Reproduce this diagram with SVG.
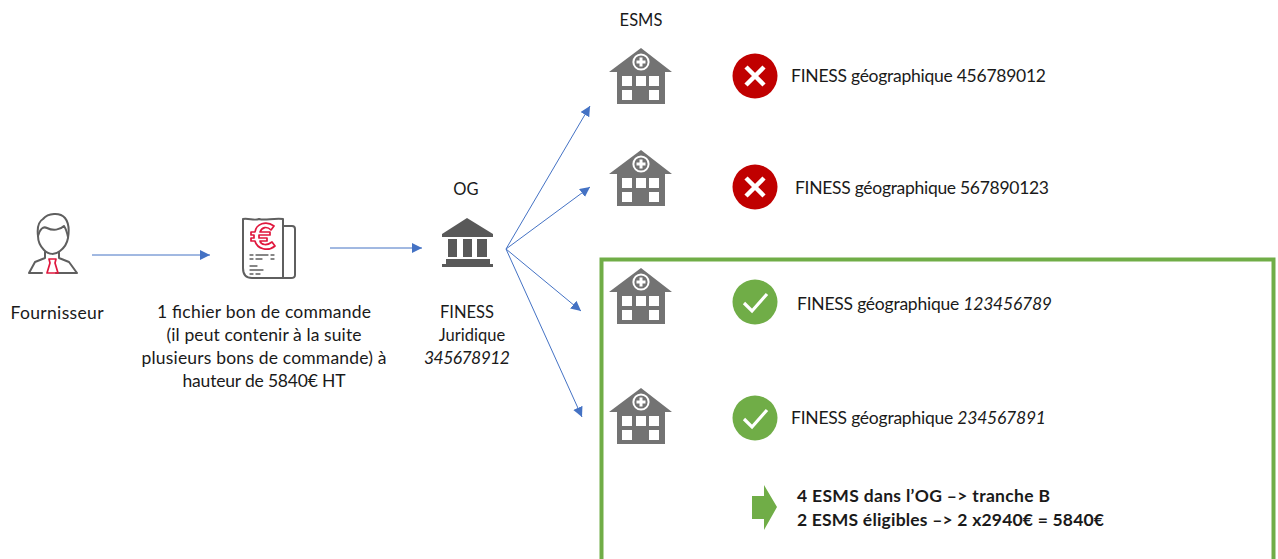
<svg xmlns="http://www.w3.org/2000/svg" width="1278" height="559" viewBox="0 0 1278 559">
<style>
text{font-family:"Lato","Open Sans","Liberation Sans",sans-serif;font-size:17.500px;fill:#1a1a1a}
.c{text-anchor:middle}
.b{font-weight:700}
.i{font-style:italic}
.caps{font-size:16.500px}
.conn{stroke:#4472c4;stroke-width:1;fill:none;marker-end:url(#ah)}
.g{fill:none;stroke:#5f5f5f;stroke-width:2;stroke-linecap:round;stroke-linejoin:round}
.t{fill:none;stroke:#5f5f5f;stroke-width:1.300;stroke-linecap:round}
.r{fill:none;stroke:#e0173d;stroke-width:1.700;stroke-linecap:round;stroke-linejoin:round}
</style>
<defs>
<marker id="ah" markerUnits="userSpaceOnUse" markerWidth="12" markerHeight="12" refX="10" refY="5" orient="auto"><path d="M0 0L10 5L0 10Z" fill="#4472c4"/></marker>
<g id="hosp">
<path d="M32 0L63 24H56V56H8V24H0Z" fill="#737373"/>
<circle cx="32" cy="14" r="8.600" fill="#fff"/><circle cx="32" cy="14" r="6.600" fill="#737373"/>
<path d="M30.500 9.500h3v3h3v3h-3v3h-3v-3h-3v-3h3z" fill="#fff"/>
<path d="M13 28h10v10H13zM27 28h10v10H27zM40 28h10v10H40zM13 42h10v10H13zM40 42h10v10H40z" fill="#fff"/>
</g>
<g id="no"><circle r="22.500" fill="#c00000"/><path d="M-9-9L9 9M9-9L-9 9" stroke="#fff" stroke-width="4.500" fill="none"/></g>
<g id="yes"><circle r="22.500" fill="#70ad47"/><path d="M-11 1L-3 9L12-8" stroke="#fff" stroke-width="3.200" fill="none"/></g>
</defs>
<rect id="box" x="601.500" y="259.500" width="672" height="310" fill="none" stroke="#70ad47" stroke-width="4"/>
<g id="connectors">
<path class="conn" d="M92 255H210"/>
<path class="conn" d="M330 248H422"/>
<path class="conn" d="M506 249L590 106"/>
<path class="conn" d="M506 249L590 187"/>
<path class="conn" d="M506 249L581 311"/>
<path class="conn" d="M506 249L582 417"/>
</g>
<g id="fournisseur">
<path class="g" d="M44 250C40 246 38 241 38 236C37 228 38 222 43 219C48 213 60 212 65 218C69 223 69 232 68 238C67 244 64 248 60 251C55 255 49 255 44 250Z"/>
<path class="g" d="M38 236C40 229 43 226 47 228C53 231 60 230 64 226C66 229 67 232 68 237"/>
<path class="g" d="M45 252V258L35 262L29 273M59 252V258L69 262L77 273M29 273H42M56 273H77"/>
<path class="r" d="M49 259H56L55 263L58 273H47L50 263Z"/>
<text class="c" x="57" y="319" textLength="93">Fournisseur</text>
</g>
<g id="facture">
<path class="g" d="M283 268V219C272 218 265 221 259 219C254 221 249 218 243 219V268C243 274 246 278 252 278H291C293 278 295 277 295 275V229C295 227 294 226 292 226H284M283 268V278"/>
<path class="r" d="M274 226C266 220 256 224 255 232H251V235H254V238H251V241H255C257 249 268 252 275 246L272 242C267 246 261 245 260 241H267V238H259V235H270V232H260C262 227 267 226 271 230Z"/>
<path class="t" d="M250 255H253M256 255H268M271 255H274M250 259H253M256 259H262M271 259H274M250 266H257M250 270H263M250 274H253M256 274H260"/>
<text class="c" x="264" y="318" textLength="214">1 fichier bon de commande</text>
<text class="c" x="264" y="341" textLength="195">(il peut contenir à la suite</text>
<text class="c" x="264" y="364" textLength="245">plusieurs bons de commande) à</text>
<text class="c" x="264" y="387" textLength="163">hauteur de 5840€ HT</text>
</g>
<g id="og">
<text class="c caps" x="466" y="195">OG</text>
<path d="M467 218L493 234V237H442V234Z" fill="#595959"/>
<path d="M448 239H457V257H448ZM463 239H472V257H463ZM477 239H487V257H477Z" fill="#595959"/>
<path d="M446 259H490V264H493V267H442V264H446Z" fill="#595959"/>
<text class="c caps" x="467" y="318">FINESS</text>
<text class="c caps" x="472" y="341">Juridique</text>
<text class="c i" x="467" y="364" textLength="86">345678912</text>
</g>
<g id="esms1">
<text class="c caps" x="641" y="26">ESMS</text>
<use href="#hosp" x="609" y="48"/>
<use href="#no" x="755" y="76"/>
<text x="791" y="82" textLength="255">FINESS géographique 456789012</text>
</g>
<g id="esms2">
<use href="#hosp" x="609" y="150"/>
<use href="#no" x="755" y="187"/>
<text x="795" y="194" textLength="254">FINESS géographique 567890123</text>
</g>
<g id="esms3">
<use href="#hosp" x="609" y="268"/>
<use href="#yes" x="755" y="302"/>
<text x="797" y="310" textLength="255">FINESS géographique <tspan class="i">123456789</tspan></text>
</g>
<g id="esms4">
<use href="#hosp" x="609" y="388"/>
<use href="#yes" x="755" y="418"/>
<text x="791" y="424" textLength="255">FINESS géographique <tspan class="i">234567891</tspan></text>
</g>
<g id="summary">
<path d="M752 496H764V485L777 507L764 530V519H752Z" fill="#70ad47"/>
<text class="b" x="797" y="502" textLength="253">4 ESMS dans l’OG –> tranche B</text>
<text class="b" x="797" y="526" textLength="307">2 ESMS éligibles –> 2 x2940€ = 5840€</text>
</g>
</svg>
